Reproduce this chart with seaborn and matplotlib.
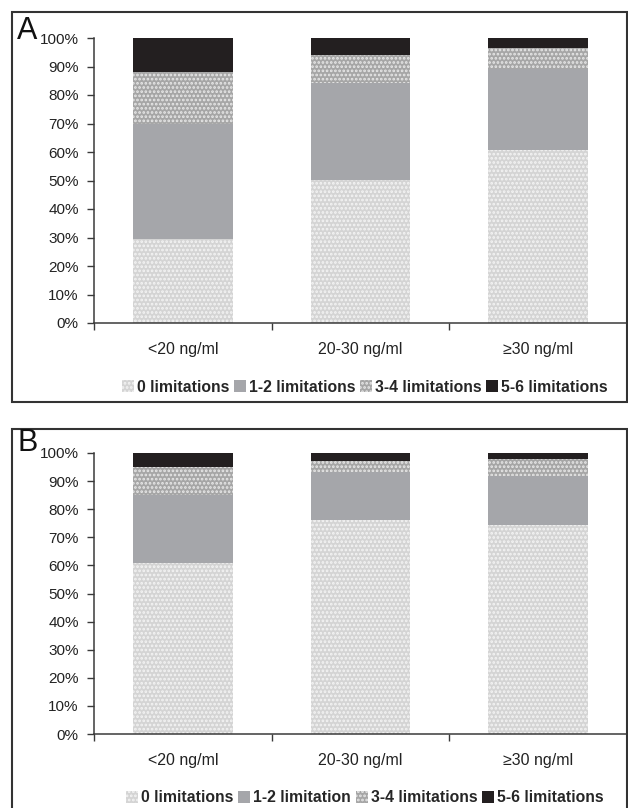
import matplotlib
matplotlib.use("Agg")
import matplotlib.pyplot as plt
from matplotlib.patches import Rectangle, Patch
import numpy as np
import pandas as pd
import seaborn as sns

# Vitamin D groups on the x axis
categories = ["<20 ng/ml", "20-30 ng/ml", "\u226530 ng/ml"]

# Panel A: share of people per number of limitations (%)
a_lim0 = [29.5, 50.2, 60.7]
a_lim12 = [40.2, 33.9, 28.3]
a_lim34 = [18.5, 9.9, 7.6]
a_lim56 = [11.8, 6.0, 3.4]
a_labels = ["0 limitations", "1-2 limitations", "3-4 limitations", "5-6 limitations"]

# Panel B
b_lim0 = [61.0, 76.2, 74.5]
b_lim12 = [23.9, 17.2, 17.2]
b_lim34 = [10.1, 3.9, 6.3]
b_lim56 = [5.0, 2.7, 2.0]
b_labels = ["0 limitations", "1-2 limitation", "3-4 limitations", "5-6 limitations"]

yticks = [0, 10, 20, 30, 40, 50, 60, 70, 80, 90, 100]
ytick_labels = ["0%", "10%", "20%", "30%", "40%", "50%", "60%", "70%", "80%", "90%", "100%"]

sns.set_theme(style="white")
plt.rcParams["font.family"] = ["Liberation Sans", "DejaVu Sans"]
plt.rcParams["hatch.linewidth"] = 1.3

W, H = 628, 808
fig = plt.figure(figsize=(W / 100, H / 100), dpi=100)

# fill and hatch for each layer, bottom to top
styles = [
    dict(color="#d4d4d4", hatch="....", edgecolor="#f4f4f4"),
    dict(color="#a5a6aa", hatch=None, edgecolor="#a5a6aa"),
    dict(color="#a6a6a6", hatch="....", edgecolor="#e8e8e8"),
    dict(color="#231f20", hatch=None, edgecolor="#231f20"),
]
axis_color = "#3a3a3a"


def px_rect(x0, y0, x1, y1):
    return [x0 / W, 1 - y1 / H, (x1 - x0) / W, (y1 - y0) / H]


def draw_panel(ax, layers, labels, letter, leg_y, letter_y):
    tops = np.cumsum(np.array(layers), axis=0)
    # draw tallest cumulative bar first so each lower layer sits on top of it
    for i in range(len(layers) - 1, -1, -1):
        df = pd.DataFrame({"group": categories, "top": tops[i]})
        st = styles[i]
        sns.barplot(data=df, x="group", y="top", ax=ax, color=st["color"],
                    saturation=1, width=0.56, hatch=st["hatch"],
                    edgecolor=st["edgecolor"], linewidth=0, errorbar=None)
    ax.set_xlim(-0.5, 2.5)
    ax.set_ylim(0, 100)
    ax.set_yticks(yticks)
    ax.set_yticklabels(ytick_labels)
    ax.set_xlabel("")
    ax.set_ylabel("")
    ax.set_xticks([-0.5, 0.5, 1.5, 2.5], minor=False)
    ax.set_xticklabels([])
    ax.set_xticks([0, 1, 2], minor=True)
    ax.set_xticklabels(categories, minor=True)
    ax.tick_params(axis="x", which="minor", length=0, labelsize=11.5, pad=14,
                   colors="#222222")
    ax.tick_params(axis="x", which="major", direction="out", length=5,
                   width=1, color=axis_color, bottom=True)
    ax.tick_params(axis="y", direction="out", length=5, width=1,
                   color=axis_color, labelsize=11, labelcolor="#222222",
                   left=True, pad=6)
    for s in ["top", "right"]:
        ax.spines[s].set_visible(False)
    for s in ["left", "bottom"]:
        ax.spines[s].set_color(axis_color)
        ax.spines[s].set_linewidth(1.1)
    ax.set_facecolor("none")

    handles = [Patch(facecolor=st["color"], hatch=st["hatch"],
                     edgecolor=st["edgecolor"], linewidth=0) for st in styles]
    fig.legend(handles, labels, loc="center", ncol=4,
               bbox_to_anchor=(365 / W, 1 - leg_y / H), frameon=False,
               handlelength=0.75, handleheight=0.75, handletextpad=0.2,
               columnspacing=0.3, borderaxespad=0,
               prop=dict(weight="bold", size=11.3))
    fig.text(17 / W, 1 - letter_y / H, letter, fontsize=22, va="center",
             ha="left", color="#111111")


# outer frames around each panel
frame_kw = dict(transform=fig.transFigure, fill=False, edgecolor="#333333",
                linewidth=1.5)
fig.patches.append(Rectangle((12 / W, 1 - 401.5 / H), (627 - 12) / W,
                             (401.5 - 12) / H, **frame_kw))
fig.patches.append(Rectangle((12 / W, 1 - 830 / H), (627 - 12) / W,
                             (830 - 429) / H, **frame_kw))

ax_a = fig.add_axes(px_rect(94, 38, 627, 323))
draw_panel(ax_a, [a_lim0, a_lim12, a_lim34, a_lim56], a_labels, "A", 387, 31)

ax_b = fig.add_axes(px_rect(94, 453, 627, 734))
draw_panel(ax_b, [b_lim0, b_lim12, b_lim34, b_lim56], b_labels, "B", 798, 443)

fig.savefig("out.png", dpi=100)
